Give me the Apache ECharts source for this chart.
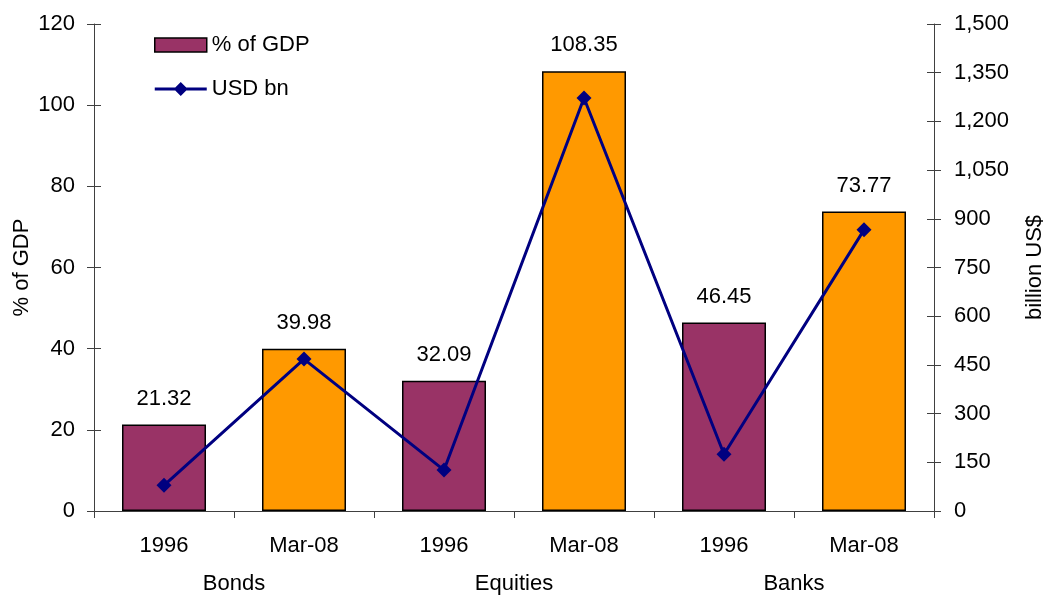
<!DOCTYPE html>
<html>
<head>
<meta charset="utf-8">
<script src="https://cdn.jsdelivr.net/npm/echarts@6/dist/echarts.min.js"></script>
<style>
html,body{margin:0;padding:0;background:#fff;}
#chart{width:1046px;height:596px;}
</style>
</head>
<body>
<div id="chart"></div>
<script>
const categories = ['1996', 'Mar-08', '1996', 'Mar-08', '1996', 'Mar-08'];
const groups = ['Bonds', 'Equities', 'Banks'];
const gdpPct = [21.32, 39.98, 32.09, 108.35, 46.45, 73.77];
const usdBn = [79, 468, 126, 1272, 175, 866];
const leftTicks = { min: 0, max: 120, interval: 20 };
const rightTicks = { min: 0, max: 1500, interval: 150 };

const PURPLE = '#993366', ORANGE = '#FF9900', NAVY = '#000080';
const FONT = 'Liberation Sans, Arial, sans-serif';
const AX = '#404040';
const FS = 22;

const chart = echarts.init(document.getElementById('chart'));
const barData = gdpPct.map((v, i) => ({
  value: v,
  itemStyle: { color: categories[i] === '1996' ? PURPLE : ORANGE }
}));

const lineIcon = 'path://M0,6.5L52,6.5L52,9.5L0,9.5Z M26,1L33,8L26,15L19,8Z';

chart.setOption({
  backgroundColor: '#fff',
  animation: false,
  textStyle: { fontFamily: FONT },
  grid: { left: 94, right: 112, top: 24, bottom: 85, containLabel: false, outerBoundsMode: 'none' },
  legend: {
    orient: 'vertical', left: 154, top: 34, padding: 0,
    itemWidth: 52, itemHeight: 14, itemGap: 22,
    textStyle: { fontSize: FS, color: '#000', fontFamily: FONT, lineHeight: 22 },
    data: [
      { name: '% of GDP', icon: 'rect', itemStyle: { borderColor: '#000', borderWidth: 1.5 } },
      { name: 'USD bn', icon: lineIcon, itemStyle: { color: NAVY, borderWidth: 0 } }
    ]
  },
  xAxis: [
    {
      type: 'category', data: categories, position: 'bottom',
      axisLine: { lineStyle: { color: AX, width: 1 } },
      axisTick: { show: true, alignWithLabel: false, length: 7, lineStyle: { color: AX } },
      axisLabel: { fontSize: FS, color: '#000', margin: 24, fontFamily: FONT }
    },
    {
      type: 'category', data: groups, position: 'bottom', gridIndex: 0,
      axisLine: { show: false }, axisTick: { show: false },
      axisLabel: { fontSize: FS, color: '#000', margin: 62, fontFamily: FONT }
    }
  ],
  yAxis: [
    {
      type: 'value', position: 'left', min: leftTicks.min, max: leftTicks.max, interval: leftTicks.interval,
      name: '% of GDP', nameLocation: 'middle', nameRotate: 90, nameGap: 61, nameMoveOverlap: false,
      nameTextStyle: { fontSize: FS, color: '#000', fontFamily: FONT },
      axisLine: { show: true, lineStyle: { color: AX } },
      axisTick: { show: true, inside: false, length: 7, lineStyle: { color: AX } },
      axisLabel: { fontSize: FS, color: '#000', margin: 19, fontFamily: FONT },
      splitLine: { show: false }
    },
    {
      type: 'value', position: 'right', min: rightTicks.min, max: rightTicks.max, interval: rightTicks.interval,
      name: 'billion US$', nameLocation: 'middle', nameRotate: 90, nameGap: 90, nameMoveOverlap: false,
      nameTextStyle: { fontSize: FS, color: '#000', fontFamily: FONT },
      axisLine: { show: true, lineStyle: { color: AX } },
      axisTick: { show: true, inside: false, length: 7, lineStyle: { color: AX } },
      axisLabel: { fontSize: FS, color: '#000', margin: 20, fontFamily: FONT,
        formatter: v => v.toLocaleString('en-US') },
      splitLine: { show: false }
    },
    {
      type: 'value', position: 'left', offset: 0, min: leftTicks.min, max: leftTicks.max, interval: leftTicks.interval,
      axisLine: { show: false },
      axisTick: { show: true, inside: true, length: 7, lineStyle: { color: AX } },
      axisLabel: { show: false }, splitLine: { show: false }
    },
    {
      type: 'value', position: 'right', offset: 0, min: rightTicks.min, max: rightTicks.max, interval: rightTicks.interval,
      axisLine: { show: false },
      axisTick: { show: true, inside: true, length: 7, lineStyle: { color: AX } },
      axisLabel: { show: false }, splitLine: { show: false }
    }
  ],
  series: [
    {
      name: '% of GDP', type: 'bar', xAxisIndex: 0, yAxisIndex: 0,
      data: barData, barCategoryGap: '40%',
      itemStyle: { color: PURPLE, borderColor: '#000', borderWidth: 1.5 },
      label: { show: true, position: 'top', distance: 15, fontSize: FS, color: '#000', fontFamily: FONT,
        formatter: p => p.value.toFixed(2) }
    },
    {
      name: 'USD bn', type: 'line', xAxisIndex: 0, yAxisIndex: 1,
      data: usdBn, symbol: 'diamond', symbolSize: 15,
      lineStyle: { color: NAVY, width: 3 },
      itemStyle: { color: NAVY },
      z: 5
    }
  ]
});
</script>
</body>
</html>
